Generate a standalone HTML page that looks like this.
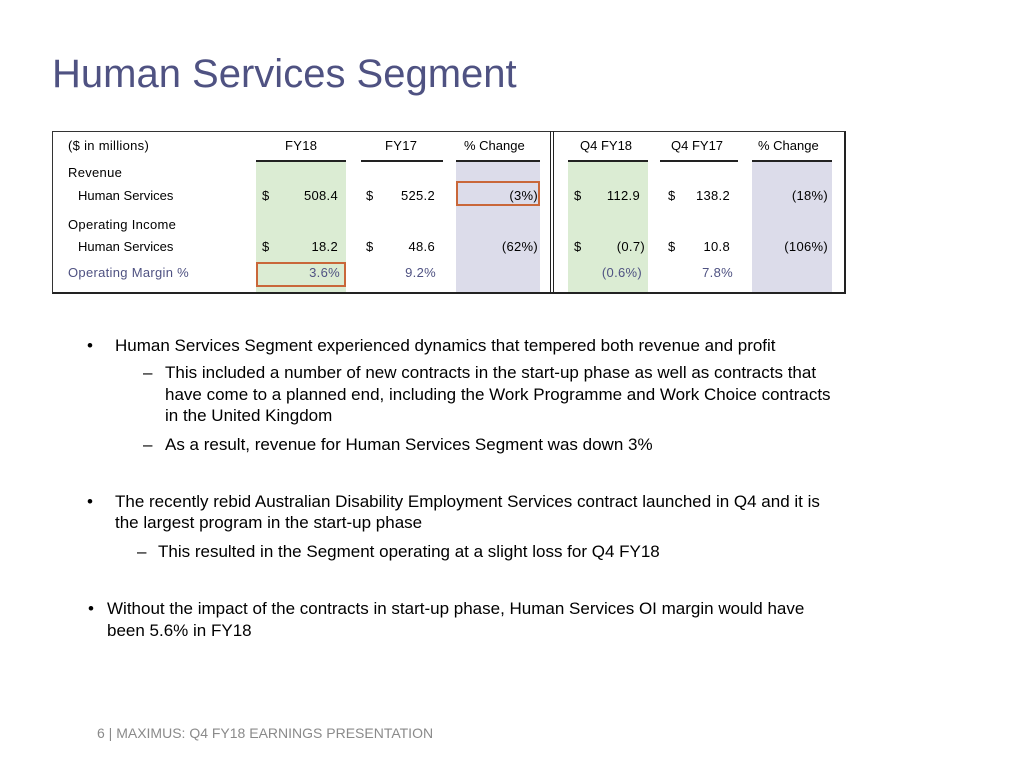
<!DOCTYPE html>
<html><head><meta charset="utf-8"><style>
body{margin:0;background:#fff;}
#s{position:relative;width:1024px;height:768px;overflow:hidden;font-family:"Liberation Sans",Arial,sans-serif;color:#000;}
.t{position:absolute;white-space:nowrap;line-height:1;}
.r{text-align:right;}
.c13{font-size:13px;letter-spacing:0.3px;}
.c16{font-size:17px;}
.bx{position:absolute;}
</style></head><body>
<div id="s">
<div class="t" style="left:52px;top:54px;font-size:40px;color:#4f5282;">Human Services Segment</div>

<div class="bx" style="left:52px;top:131px;width:791px;height:160px;border:1px solid #333;border-right:2px solid #222;border-bottom:2px solid #222;"></div>
<div class="bx" style="left:550px;top:131px;width:2px;height:162px;border-left:1px solid #222;border-right:1px solid #222;"></div>
<div class="bx" style="left:256px;top:162px;width:90px;height:130px;background:#dbecd3;"></div>
<div class="bx" style="left:456px;top:162px;width:84px;height:130px;background:#dcdcea;"></div>
<div class="bx" style="left:568px;top:162px;width:80px;height:130px;background:#dbecd3;"></div>
<div class="bx" style="left:752px;top:162px;width:80px;height:130px;background:#dcdcea;"></div>
<div class="bx" style="left:256px;top:160px;width:90px;height:2px;background:#222;"></div>
<div class="bx" style="left:361px;top:160px;width:82px;height:2px;background:#222;"></div>
<div class="bx" style="left:456px;top:160px;width:84px;height:2px;background:#222;"></div>
<div class="bx" style="left:568px;top:160px;width:80px;height:2px;background:#222;"></div>
<div class="bx" style="left:660px;top:160px;width:78px;height:2px;background:#222;"></div>
<div class="bx" style="left:752px;top:160px;width:80px;height:2px;background:#222;"></div>
<div class="bx" style="left:456px;top:181px;width:80px;height:21px;border:2px solid #c9673a;"></div>
<div class="bx" style="left:256px;top:262px;width:86px;height:21px;border:2px solid #c9673a;"></div>

<div class="t c13" style="left:68px;top:139px;">($ in millions)</div>
<div class="t c13" style="left:285px;top:139px;">FY18</div>
<div class="t c13" style="left:385px;top:139px;">FY17</div>
<div class="t c13" style="left:464px;top:139px;letter-spacing:0;">% Change</div>
<div class="t c13" style="left:580px;top:139px;letter-spacing:0;">Q4 FY18</div>
<div class="t c13" style="left:671px;top:139px;letter-spacing:0;">Q4 FY17</div>
<div class="t c13" style="left:758px;top:139px;letter-spacing:0;">% Change</div>

<div class="t c13" style="left:68px;top:166px;">Revenue</div>
<div class="t c13" style="left:78px;top:189px;letter-spacing:0;">Human Services</div>
<div class="t c13" style="left:262px;top:189px;">$</div>
<div class="t c13 r" style="left:280px;width:58px;top:189px;">508.4</div>
<div class="t c13" style="left:366px;top:189px;">$</div>
<div class="t c13 r" style="left:380px;width:55px;top:189px;">525.2</div>
<div class="t c13 r" style="left:470px;width:68px;top:189px;">(3%)</div>
<div class="t c13" style="left:574px;top:189px;">$</div>
<div class="t c13 r" style="left:590px;width:50px;top:189px;">112.9</div>
<div class="t c13" style="left:668px;top:189px;">$</div>
<div class="t c13 r" style="left:680px;width:50px;top:189px;">138.2</div>
<div class="t c13 r" style="left:760px;width:68px;top:189px;">(18%)</div>

<div class="t c13" style="left:68px;top:218px;">Operating Income</div>
<div class="t c13" style="left:78px;top:240px;letter-spacing:0;">Human Services</div>
<div class="t c13" style="left:262px;top:240px;">$</div>
<div class="t c13 r" style="left:280px;width:58px;top:240px;">18.2</div>
<div class="t c13" style="left:366px;top:240px;">$</div>
<div class="t c13 r" style="left:380px;width:55px;top:240px;">48.6</div>
<div class="t c13 r" style="left:470px;width:68px;top:240px;">(62%)</div>
<div class="t c13" style="left:574px;top:240px;">$</div>
<div class="t c13 r" style="left:590px;width:55px;top:240px;">(0.7)</div>
<div class="t c13" style="left:668px;top:240px;">$</div>
<div class="t c13 r" style="left:680px;width:50px;top:240px;">10.8</div>
<div class="t c13 r" style="left:760px;width:68px;top:240px;">(106%)</div>

<div class="t c13" style="left:68px;top:266px;color:#4f5282;">Operating Margin %</div>
<div class="t c13 r" style="left:280px;width:60px;top:266px;color:#4f5282;">3.6%</div>
<div class="t c13 r" style="left:380px;width:56px;top:266px;color:#4f5282;">9.2%</div>
<div class="t c13 r" style="left:580px;width:62px;top:266px;color:#4f5282;">(0.6%)</div>
<div class="t c13 r" style="left:680px;width:53px;top:266px;color:#4f5282;">7.8%</div>

<div class="t c16" style="left:87px;top:337px;">•</div>
<div class="t c16" style="left:115px;top:337px;">Human Services Segment experienced dynamics that tempered both revenue and profit</div>
<div class="t c16" style="left:143px;top:364px;">–</div>
<div class="t c16" style="left:165px;top:364px;">This included a number of new contracts in the start-up phase as well as contracts that</div>
<div class="t c16" style="left:165px;top:386px;">have come to a planned end, including the Work Programme and Work Choice contracts</div>
<div class="t c16" style="left:165px;top:407px;">in the United Kingdom</div>
<div class="t c16" style="left:143px;top:436px;">–</div>
<div class="t c16" style="left:165px;top:436px;">As a result, revenue for Human Services Segment was down 3%</div>
<div class="t c16" style="left:87px;top:493px;">•</div>
<div class="t c16" style="left:115px;top:493px;">The recently rebid Australian Disability Employment Services contract launched in Q4 and it is</div>
<div class="t c16" style="left:115px;top:514px;">the largest program in the start-up phase</div>
<div class="t c16" style="left:137px;top:543px;">–</div>
<div class="t c16" style="left:158px;top:543px;">This resulted in the Segment operating at a slight loss for Q4 FY18</div>
<div class="t c16" style="left:88px;top:600px;">•</div>
<div class="t c16" style="left:107px;top:600px;">Without the impact of the contracts in start-up phase, Human Services OI margin would have</div>
<div class="t c16" style="left:107px;top:622px;">been 5.6% in FY18</div>

<div class="t" style="left:97px;top:726px;font-size:14px;color:#8a8a8a;">6 | MAXIMUS: Q4 FY18 EARNINGS PRESENTATION</div>
</div>
</body></html>
